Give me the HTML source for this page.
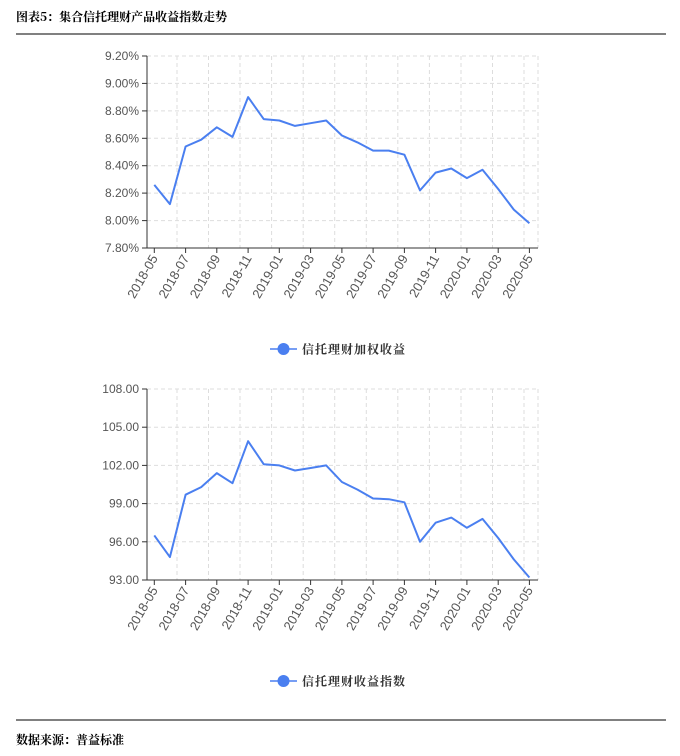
<!DOCTYPE html>
<html><head><meta charset="utf-8"><style>
body{margin:0;background:#fff;width:680px;height:751px;overflow:hidden;font-family:"Liberation Sans","Noto Sans CJK SC",sans-serif}
</style></head><body>
<svg width="680" height="751" xmlns="http://www.w3.org/2000/svg" font-family="Liberation Sans, Noto Sans CJK SC, sans-serif">
<text x="16" y="21" font-size="12" font-weight="bold" fill="#000" font-family="Noto Serif CJK SC, serif">图表5：集合信托理财产品收益指数走势</text>
<line x1="16" y1="34" x2="666" y2="34" stroke="#000" stroke-width="1"/>
<line x1="16" y1="720" x2="666" y2="720" stroke="#000" stroke-width="1"/>
<text x="16" y="744" font-size="12" font-weight="bold" fill="#000" font-family="Noto Serif CJK SC, serif">数据来源：普益标准</text>

<g stroke="#ddd" stroke-dasharray="4,3" stroke-width="1" fill="none">
<line x1="147" y1="56" x2="538" y2="56"/><line x1="147" y1="83.4" x2="538" y2="83.4"/><line x1="147" y1="110.9" x2="538" y2="110.9"/><line x1="147" y1="138.3" x2="538" y2="138.3"/><line x1="147" y1="165.7" x2="538" y2="165.7"/><line x1="147" y1="193.1" x2="538" y2="193.1"/><line x1="147" y1="220.6" x2="538" y2="220.6"/>
<line x1="177" y1="56" x2="177" y2="248"/><line x1="208.5" y1="56" x2="208.5" y2="248"/><line x1="240" y1="56" x2="240" y2="248"/><line x1="271.6" y1="56" x2="271.6" y2="248"/><line x1="303.2" y1="56" x2="303.2" y2="248"/><line x1="334.7" y1="56" x2="334.7" y2="248"/><line x1="366.3" y1="56" x2="366.3" y2="248"/><line x1="397.8" y1="56" x2="397.8" y2="248"/><line x1="429.4" y1="56" x2="429.4" y2="248"/><line x1="461" y1="56" x2="461" y2="248"/><line x1="492.5" y1="56" x2="492.5" y2="248"/><line x1="524" y1="56" x2="524" y2="248"/><line x1="538" y1="56" x2="538" y2="248"/>
</g>
<g stroke="#333" stroke-width="1">
<line x1="147" y1="56" x2="147" y2="248.5"/><line x1="147" y1="248" x2="538" y2="248"/>
<line x1="142" y1="56" x2="147" y2="56"/><line x1="142" y1="83.4" x2="147" y2="83.4"/><line x1="142" y1="110.9" x2="147" y2="110.9"/><line x1="142" y1="138.3" x2="147" y2="138.3"/><line x1="142" y1="165.7" x2="147" y2="165.7"/><line x1="142" y1="193.1" x2="147" y2="193.1"/><line x1="142" y1="220.6" x2="147" y2="220.6"/><line x1="142" y1="248" x2="147" y2="248"/>
<line x1="154.3" y1="248" x2="154.3" y2="253"/><line x1="185.6" y1="248" x2="185.6" y2="253"/><line x1="216.8" y1="248" x2="216.8" y2="253"/><line x1="248.1" y1="248" x2="248.1" y2="253"/><line x1="279.3" y1="248" x2="279.3" y2="253"/><line x1="310.6" y1="248" x2="310.6" y2="253"/><line x1="341.9" y1="248" x2="341.9" y2="253"/><line x1="373.1" y1="248" x2="373.1" y2="253"/><line x1="404.4" y1="248" x2="404.4" y2="253"/><line x1="435.6" y1="248" x2="435.6" y2="253"/><line x1="466.9" y1="248" x2="466.9" y2="253"/><line x1="498.2" y1="248" x2="498.2" y2="253"/><line x1="529.4" y1="248" x2="529.4" y2="253"/>
</g>
<g font-size="12" fill="#555" text-anchor="end">
<text x="139" y="60">9.20%</text><text x="139" y="87.4">9.00%</text><text x="139" y="114.9">8.80%</text><text x="139" y="142.3">8.60%</text><text x="139" y="169.7">8.40%</text><text x="139" y="197.1">8.20%</text><text x="139" y="224.6">8.00%</text><text x="139" y="252">7.80%</text>
</g>
<g font-size="13" fill="#555" text-anchor="end">
<text transform="translate(158.3,258) rotate(-60)">2018-05</text><text transform="translate(189.6,258) rotate(-60)">2018-07</text><text transform="translate(220.8,258) rotate(-60)">2018-09</text><text transform="translate(252.1,258) rotate(-60)">2018-11</text><text transform="translate(283.3,258) rotate(-60)">2019-01</text><text transform="translate(314.6,258) rotate(-60)">2019-03</text><text transform="translate(345.9,258) rotate(-60)">2019-05</text><text transform="translate(377.1,258) rotate(-60)">2019-07</text><text transform="translate(408.4,258) rotate(-60)">2019-09</text><text transform="translate(439.6,258) rotate(-60)">2019-11</text><text transform="translate(470.9,258) rotate(-60)">2020-01</text><text transform="translate(502.2,258) rotate(-60)">2020-03</text><text transform="translate(533.4,258) rotate(-60)">2020-05</text>
</g>
<polyline fill="none" stroke="#4a7ff0" stroke-width="2" stroke-linejoin="round" points="154.3,184.9 169.9,204.1 185.6,146.5 201.2,139.7 216.8,127.3 232.5,136.9 248.1,97.1 263.7,119.1 279.3,120.5 295,125.9 310.6,123.2 326.2,120.5 341.9,135.5 357.5,142.4 373.1,150.6 388.8,150.6 404.4,154.7 420,190.4 435.6,172.6 451.3,168.5 466.9,178.1 482.5,169.8 498.2,189 513.8,209.6 529.4,223.3"/>
<line x1="270" y1="349" x2="297" y2="349" stroke="#4a7ff0" stroke-width="1.5"/><circle cx="283.5" cy="349" r="6" fill="#4a7ff0"/>
<text x="302" y="353.5" font-size="12" font-weight="bold" fill="#333" font-family="Noto Serif CJK SC, serif" letter-spacing="1">信托理财加权收益</text>

<g stroke="#ddd" stroke-dasharray="4,3" stroke-width="1" fill="none">
<line x1="147" y1="389" x2="538" y2="389"/><line x1="147" y1="427.2" x2="538" y2="427.2"/><line x1="147" y1="465.4" x2="538" y2="465.4"/><line x1="147" y1="503.6" x2="538" y2="503.6"/><line x1="147" y1="541.8" x2="538" y2="541.8"/>
<line x1="177" y1="389" x2="177" y2="580"/><line x1="208.5" y1="389" x2="208.5" y2="580"/><line x1="240" y1="389" x2="240" y2="580"/><line x1="271.6" y1="389" x2="271.6" y2="580"/><line x1="303.2" y1="389" x2="303.2" y2="580"/><line x1="334.7" y1="389" x2="334.7" y2="580"/><line x1="366.3" y1="389" x2="366.3" y2="580"/><line x1="397.8" y1="389" x2="397.8" y2="580"/><line x1="429.4" y1="389" x2="429.4" y2="580"/><line x1="461" y1="389" x2="461" y2="580"/><line x1="492.5" y1="389" x2="492.5" y2="580"/><line x1="524" y1="389" x2="524" y2="580"/><line x1="538" y1="389" x2="538" y2="580"/>
</g>
<g stroke="#333" stroke-width="1">
<line x1="147" y1="389" x2="147" y2="580.5"/><line x1="147" y1="580" x2="538" y2="580"/>
<line x1="142" y1="389" x2="147" y2="389"/><line x1="142" y1="427.2" x2="147" y2="427.2"/><line x1="142" y1="465.4" x2="147" y2="465.4"/><line x1="142" y1="503.6" x2="147" y2="503.6"/><line x1="142" y1="541.8" x2="147" y2="541.8"/><line x1="142" y1="580" x2="147" y2="580"/>
<line x1="154.3" y1="580" x2="154.3" y2="585"/><line x1="185.6" y1="580" x2="185.6" y2="585"/><line x1="216.8" y1="580" x2="216.8" y2="585"/><line x1="248.1" y1="580" x2="248.1" y2="585"/><line x1="279.3" y1="580" x2="279.3" y2="585"/><line x1="310.6" y1="580" x2="310.6" y2="585"/><line x1="341.9" y1="580" x2="341.9" y2="585"/><line x1="373.1" y1="580" x2="373.1" y2="585"/><line x1="404.4" y1="580" x2="404.4" y2="585"/><line x1="435.6" y1="580" x2="435.6" y2="585"/><line x1="466.9" y1="580" x2="466.9" y2="585"/><line x1="498.2" y1="580" x2="498.2" y2="585"/><line x1="529.4" y1="580" x2="529.4" y2="585"/>
</g>
<g font-size="12" fill="#555" text-anchor="end">
<text x="139" y="393">108.00</text><text x="139" y="431.2">105.00</text><text x="139" y="469.4">102.00</text><text x="139" y="507.6">99.00</text><text x="139" y="545.8">96.00</text><text x="139" y="584">93.00</text>
</g>
<g font-size="13" fill="#555" text-anchor="end">
<text transform="translate(158.3,590) rotate(-60)">2018-05</text><text transform="translate(189.6,590) rotate(-60)">2018-07</text><text transform="translate(220.8,590) rotate(-60)">2018-09</text><text transform="translate(252.1,590) rotate(-60)">2018-11</text><text transform="translate(283.3,590) rotate(-60)">2019-01</text><text transform="translate(314.6,590) rotate(-60)">2019-03</text><text transform="translate(345.9,590) rotate(-60)">2019-05</text><text transform="translate(377.1,590) rotate(-60)">2019-07</text><text transform="translate(408.4,590) rotate(-60)">2019-09</text><text transform="translate(439.6,590) rotate(-60)">2019-11</text><text transform="translate(470.9,590) rotate(-60)">2020-01</text><text transform="translate(502.2,590) rotate(-60)">2020-03</text><text transform="translate(533.4,590) rotate(-60)">2020-05</text>
</g>
<polyline fill="none" stroke="#4a7ff0" stroke-width="2" stroke-linejoin="round" points="154.3,535.4 169.9,557.1 185.6,494.7 201.2,487.1 216.8,473.1 232.5,483.2 248.1,441.2 263.7,464.2 279.3,465.4 295,470.5 310.6,468 326.2,465.4 341.9,482 357.5,489.6 373.1,498.5 388.8,499.2 404.4,502.3 420,541.8 435.6,522.7 451.3,517.6 466.9,527.8 482.5,518.9 498.2,538 513.8,559.4 529.4,577.5"/>
<line x1="270" y1="681" x2="297" y2="681" stroke="#4a7ff0" stroke-width="1.5"/><circle cx="283.5" cy="681" r="6" fill="#4a7ff0"/>
<text x="302" y="685.5" font-size="12" font-weight="bold" fill="#333" font-family="Noto Serif CJK SC, serif" letter-spacing="1">信托理财收益指数</text>
</svg>
</body></html>
